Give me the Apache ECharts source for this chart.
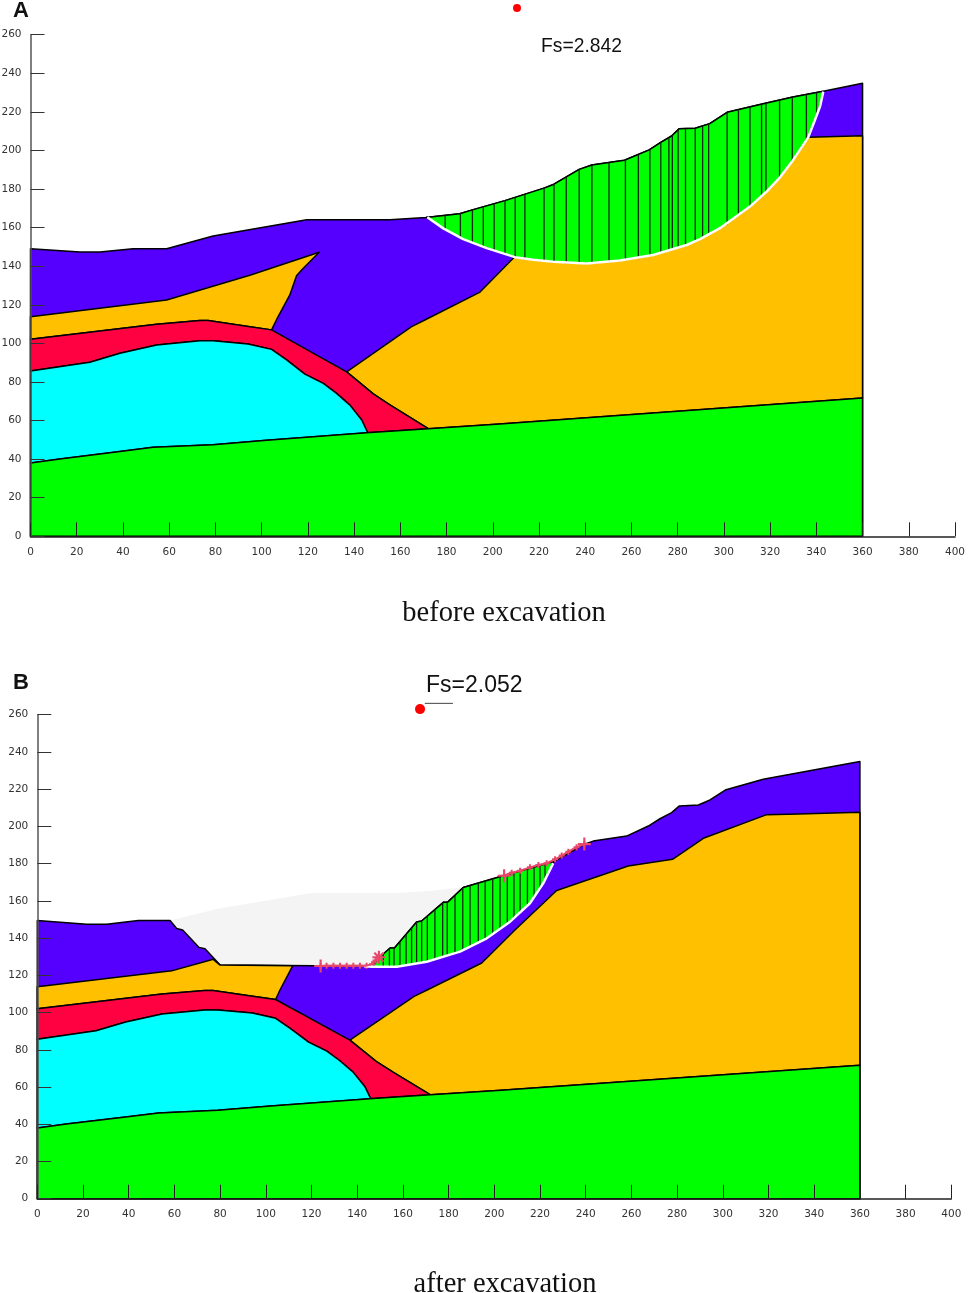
<!DOCTYPE html>
<html>
<head>
<meta charset="utf-8">
<title>Slope stability before and after excavation</title>
<style>
	html, body { margin: 0; padding: 0; background: #fff; }
	#chart { width: 969px; height: 1293px; }
</style>
<script src="https://cdn.jsdelivr.net/npm/echarts@6/dist/echarts.min.js"></script>
</head>
<body>
<div id="chart"></div>
<script>
// shared layer boundaries, [x, y] in axis units
var baseLine = [[0,38],[12.7,40.1],[38.7,43.9],[53.1,46.1],[79,47.5],[102.2,49.8],[145.4,53.7],[172.1,55.8],[203,58.2],[360,71.7]];
var cyanTop = [[0,85.7],[25.7,90.2],[38.7,94.9],[54.6,99.2],[73.3,101.4],[79,101.4],[94.1,99.7],[104.3,96.9],[110.8,91.4],[118.7,84.1],[126.7,79.3],[132.4,74.1],[138.2,68],[143.3,60.3],[145.9,53.7]];
var redTop = [[0,102.1],[54.6,109.9],[73.3,111.8],[76.9,111.8],[94.2,108.7],[104.3,107],[136.8,85.2],[148.3,73.8],[155.5,68.1],[172.1,55.8]];
var orangeTop = [[136.8,85.2],[164.9,108.7],[170.6,112.1],[194.5,126.6],[209.6,145],[227.3,165.6],[258.6,178.7],[278,182.3],[291.5,193.6],[319.2,206.3],[333,206.7],[360,207.6]];

// panel A, before excavation
var wedgeA = [[0,113.8],[58.9,122.5],[94.9,135.3],[124.9,147.2],[117.3,138],[115.1,135.1],[112.2,125.1],[106.5,112.4],[104.3,107]];
var surfaceLeftA = [[0,149.1],[21.4,147.4],[30,147.4],[44.4,149],[58.9,149],[79,155.7],[119.5,164.1],[155.5,164.1]];
var slideTopA = [[171.1,165.3],[185.7,167.2],[191.2,169.2],[205.3,174],[222.5,180.6],[226.5,182.5],[237.4,190.2],[242.9,192.5],[257,194.9],[267.7,200.3],[272.7,204.2],[277.4,207.5],[280.6,211.2],[287.6,211.5],[293.9,213.9],[301.4,219.8],[316.6,224.1],[329.9,227.7],[342.5,230.5]];
var surfaceRightA = [[360,234.8]];
var slipA = [[171.7,165.4],[178.6,159.6],[187.2,154],[197.4,149.4],[209.6,144.7],[217.5,143.3],[226.2,142.3],[240.6,141.4],[255,143],[269.4,145.8],[283.9,151],[289.7,154],[298.3,159.7],[311.3,170.9],[318.5,178.7],[324.3,186.1],[330,195.1],[336.5,206.8],[339.4,215.8],[341.6,222.7],[343,230.5]];
var sliceXA = [179.4,186,191.2,195.9,200.6,205.3,209.7,213.9,222.2,226.5,231.8,237.4,242.9,250.3,257.4,263,268,272.7,276.2,277.7,280.2,283.4,287.6,290.8,293.4,301.4,306.3,311.3,316.3,318.2,324.1,329.6,335.7,340.1];
var sliceTopA = [166.4,167.3,169.2,170.8,172.4,174,175.7,177.3,180.5,182.5,186.2,190.2,192.5,193.8,195,197.9,200.5,204.2,206.7,207.8,210.7,211.3,211.5,212.7,214,219.8,221.2,222.6,224,224.5,226.1,227.6,229,229.9];
var sliceBottomA = [158.4,154.7,152.2,150.1,148.2,146.4,144.7,144,142.8,142.3,142,141.6,141.7,142.5,143.5,144.6,145.6,147,148.2,148.8,149.7,150.8,152.9,154.7,156.2,161.6,166.2,170.9,176.3,178.4,185.8,194.5,205.3,218];
var centreA = [[210.5,273.9]];

// panel B, after excavation
var ghostB = [[58.1,149.4],[79,155.7],[119.5,164.1],[155.5,164.1],[171.1,165.3],[186.4,167.2],[186.4,125.2],[58.1,125.2]];
var wedgeB = [[0,113.8],[58.8,122.4],[77,128.6],[80,125.5],[111.8,125.2],[106.2,112.1],[104.3,107]];
var surfaceLeftB = [[0,149.4],[21.6,147.4],[30.4,147.4],[44.2,149.4],[58.1,149.4],[61,145.2],[63.6,144.3],[70.8,135],[73.4,134.3],[80,125.5],[121.5,125.2],[145.6,125.2]];
var slideTopB = [[148.5,128.2],[154.4,134.7],[156.3,134.7],[166,148.7],[168.2,149.2],[177.7,159.2],[179.5,159.2],[186.4,167.2],[203.9,173.5],[225.8,181],[226.3,181.2]];
var surfaceRightB = [[239.4,190.4],[243.3,192.1],[257.9,194.8],[267.4,200.2],[272.5,204.1],[277.6,207.4],[281,211],[289.3,211.5],[294.4,214.2],[301.4,219.7],[317.7,225.3],[360,234.8]];
var slipB = [[143,124.9],[147,124.6],[157.3,124.6],[170.4,127.3],[185,132.7],[196.7,139.9],[206.9,148.8],[215.6,158.7],[221.4,169.4],[225.8,180.2]];
var sliceXB = [151.4,154.1,156.1,158.7,161.4,163.8,166,168.2,170.7,174,177.4,179.4,182.8,186.2,189.4,193,196,199.3,202.5,205.7,208.6,211.3,214.5,217.4,220,222.2];
var sliceTopB = [131.4,134.4,134.7,138.1,142,145.5,148.7,149.2,151.8,155.3,158.9,159.2,162.8,166.8,168.3,169.6,170.6,171.8,173,174.2,175.1,176.1,177.2,178.2,179.1,179.9];
var sliceBottomB = [124.6,124.6,124.6,124.9,125.4,125.9,126.4,126.8,127.4,128.6,129.9,130.6,131.9,133.4,135.4,137.6,139.5,142.2,145,147.8,150.7,153.7,157.4,162,166.8,171.4];
var centreB = [[167.5,263]];
var leaderB = [[169.6,266.1],[181.9,266.1]];
var shearLowB = [[124,125],[126.6,125.2],[129.6,125.2],[132.5,125.2],[135.4,125.2],[138.3,125.2],[141.2,125.2],[144.1,125.2],[146.5,126],[148,128],[149.5,129.7]];
var shearHighB = [[204.3,173.5],[207.6,175.1],[211.3,176.2],[215.6,178],[219.3,179.3],[222.9,180.2],[226.6,182.3],[229.5,184.3],[232.4,186.4],[236,188.8],[239.4,190.5]];
var shearBigB = [[124,125],[149.5,129.7],[204.3,173.5],[239.4,190.5]];
var shearStarB = [[149.5,129.7]];

var COLORS = { purple: '#5500ff', orange: '#ffc000', red: '#ff0040', cyan: '#00ffff', green: '#00ff00', ghost: '#f4f4f4', shear: '#e8476b' };
var PLUS_PATH = 'path://M5 0H7V5H12V7H7V12H5V7H0V5H5Z';
var PLUS_THICK_PATH = 'path://M4 0H8V4H12V8H8V12H4V8H0V4H4Z';

/** one filled polygon, placed through the axes of the given panel */
function polygonSeries(pPanel, pPoints, pFill, pStroke) {
	return {
		type: 'custom',
		xAxisIndex: pPanel,
		yAxisIndex: pPanel,
		clip: false,
		silent: true,
		data: [[0]],
		renderItem: function (params, api) {
			return {
				type: 'polygon',
				shape: { points: pPoints.map(function (p) { return api.coord(p); }) },
				style: { fill: pFill, stroke: pStroke ? '#000' : null, lineWidth: pStroke ? 1.5 : 0, lineJoin: 'round' }
			};
		}
	};
}

/** the vertical slice lines of a sliding mass */
function sliceSeries(pPanel, pXs, pTops, pBottoms) {
	return {
		type: 'custom',
		xAxisIndex: pPanel,
		yAxisIndex: pPanel,
		silent: true,
		data: pXs.map(function (x, i) { return [x, pTops[i], pBottoms[i]]; }),
		renderItem: function (params, api) {
			var top = api.coord([api.value(0), api.value(1)]);
			var bottom = api.coord([api.value(0), api.value(2)]);
			return {
				type: 'line',
				shape: { x1: top[0], y1: top[1], x2: bottom[0], y2: bottom[1] },
				style: { stroke: '#0a2a0a', lineWidth: 1.3 }
			};
		}
	};
}

function lineSeries(pPanel, pPoints, pColor, pWidth) {
	return {
		type: 'line',
		xAxisIndex: pPanel,
		yAxisIndex: pPanel,
		data: pPoints,
		clip: false,
		silent: true,
		symbol: 'none',
		lineStyle: { color: pColor, width: pWidth }
	};
}

function markerSeries(pPanel, pPoints, pSymbol, pSize, pColor, pRotate) {
	return {
		type: 'scatter',
		xAxisIndex: pPanel,
		yAxisIndex: pPanel,
		data: pPoints,
		clip: false,
		silent: true,
		symbol: pSymbol,
		symbolSize: pSize,
		symbolRotate: pRotate || 0,
		itemStyle: { color: pColor, opacity: 1 }
	};
}

/** the layers common to both panels, from the bottom of the draw order up */
function layerSeries(pPanel, pSurface, pWedge) {
	var redClosed = redTop.concat([[145.4,53.7]], cyanTop.slice().reverse());
	var cyanClosed = cyanTop.concat(baseLine.slice(0, 6).reverse());
	var orangeClosed = orangeTop.concat([[360,71.7]], baseLine.slice(7, 9).reverse(), redTop.slice(6, 9).reverse());
	var wedgeClosed = pWedge.concat(redTop.slice(0, 5).reverse());
	var greenClosed = baseLine.concat([[360,0],[0,0]]);
	return [
		polygonSeries(pPanel, pSurface.concat([[360,0],[0,0]]), COLORS.purple, true),
		polygonSeries(pPanel, orangeClosed, COLORS.orange, true),
		polygonSeries(pPanel, wedgeClosed, COLORS.orange, true),
		polygonSeries(pPanel, redClosed, COLORS.red, true),
		polygonSeries(pPanel, cyanClosed, COLORS.cyan, true),
		polygonSeries(pPanel, greenClosed, COLORS.green, true)
	];
}

function xAxisOption(pGrid) {
	return {
		type: 'value', gridIndex: pGrid, min: 0, max: 400, interval: 20, z: 10,
		splitLine: { show: false },
		axisLine: { onZero: false, lineStyle: { color: '#222', width: 1.5 } },
		axisTick: { inside: true, length: 14, lineStyle: { color: '#222', width: 1 } },
		axisLabel: { margin: 10, fontFamily: 'DejaVu Sans', fontSize: 10.5, color: '#333' }
	};
}

function yAxisOption(pGrid) {
	return {
		type: 'value', gridIndex: pGrid, min: 0, max: 260, interval: 20, z: 10,
		splitLine: { show: false },
		axisLine: { onZero: false, lineStyle: { color: '#555', width: 1.5 } },
		axisTick: { inside: true, length: 14, lineStyle: { color: '#333', width: 1 } },
		axisLabel: { margin: 9, padding: [2, 0, 0, 0], fontFamily: 'DejaVu Sans', fontSize: 10.5, color: '#333' }
	};
}

function textElement(pText, pX, pY, pFont, pSize, pWeight, pAlign) {
	return {
		type: 'text', x: pX, y: pY, silent: true,
		style: { text: pText, fontFamily: pFont, fontSize: pSize, fontWeight: pWeight, fill: '#111', align: pAlign, verticalAlign: 'middle' }
	};
}

var seriesA = layerSeries(0, surfaceLeftA.concat(slideTopA, surfaceRightA), wedgeA).concat([
	polygonSeries(0, slideTopA.concat(slipA.slice().reverse()), COLORS.green, true),
	sliceSeries(0, sliceXA, sliceTopA, sliceBottomA),
	lineSeries(0, slipA, '#fff', 2.5),
	markerSeries(0, centreA, 'circle', 8, '#ff0000')
]);

var seriesB = [polygonSeries(1, ghostB, COLORS.ghost, false)].concat(
	layerSeries(1, surfaceLeftB.concat(slideTopB, surfaceRightB), wedgeB),
	[
		polygonSeries(1, slideTopB.concat(slipB.slice(1).reverse()), COLORS.green, true),
		sliceSeries(1, sliceXB, sliceTopB, sliceBottomB),
		lineSeries(1, slipB, '#fff', 2.5),
		lineSeries(1, shearLowB, COLORS.shear, 2),
		lineSeries(1, shearHighB, COLORS.shear, 2),
		markerSeries(1, shearLowB, PLUS_THICK_PATH, 6, COLORS.shear),
		markerSeries(1, shearHighB, PLUS_THICK_PATH, 6, COLORS.shear),
		markerSeries(1, shearBigB, PLUS_PATH, 13, COLORS.shear),
		markerSeries(1, shearStarB, PLUS_PATH, 13, COLORS.shear, 45),
		lineSeries(1, leaderB, '#444', 1),
		markerSeries(1, centreB, 'circle', 10, '#ff0000')
	]
);

var chart = echarts.init(document.getElementById('chart'), null, { renderer: 'canvas' });
chart.setOption({
	animation: false,
	backgroundColor: '#fff',
	grid: [
		{ left: 30.5, top: 34.7, width: 924.5, height: 501.6, outerBoundsMode: 'none' },
		{ left: 37.3, top: 714.7, width: 914, height: 484, outerBoundsMode: 'none' }
	],
	xAxis: [xAxisOption(0), xAxisOption(1)],
	yAxis: [yAxisOption(0), yAxisOption(1)],
	series: seriesA.concat(seriesB),
	graphic: [
		textElement('A', 13, 11, 'Liberation Sans', 22, 'bold', 'left'),
		textElement('B', 13, 683, 'Liberation Sans', 22, 'bold', 'left'),
		textElement('Fs=2.842', 541, 46.5, 'Liberation Sans', 19.3, 'normal', 'left'),
		textElement('Fs=2.052', 426, 685.5, 'Liberation Sans', 23, 'normal', 'left'),
		textElement('before excavation', 504, 614, 'Liberation Serif', 28.5, 'normal', 'center'),
		textElement('after excavation', 505, 1285, 'Liberation Serif', 28.5, 'normal', 'center')
	]
});
</script>
</body>
</html>
